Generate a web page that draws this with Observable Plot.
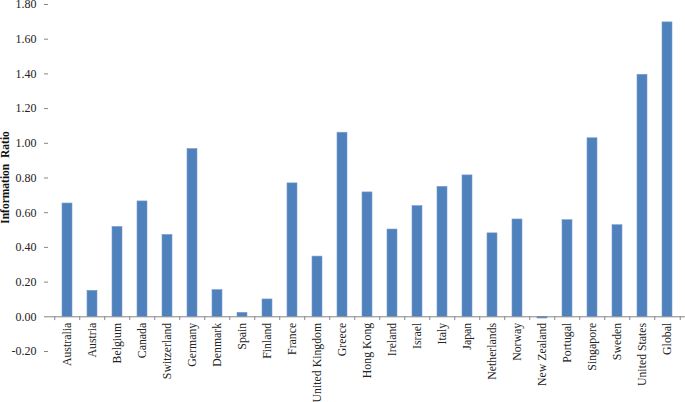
<!DOCTYPE html>
<html>
<head>
<meta charset="utf-8">
<script src="https://cdn.jsdelivr.net/npm/d3@7"></script>
<script src="https://cdn.jsdelivr.net/npm/@observablehq/plot@0.6"></script>
<style>
  html, body { margin: 0; padding: 0; background: #fff; }
  #chart svg { overflow: visible; }
  #chart svg, #chart svg text { font-family: "Liberation Serif", "Times New Roman", serif !important; }
</style>
</head>
<body>
<div id="chart"></div>
<script>
const countries = ["Australia","Austria","Belgium","Canada","Switzerland","Germany","Denmark","Spain","Finland","France","United Kingdom","Greece","Hong Kong","Ireland","Israel","Italy","Japan","Netherlands","Norway","New Zealand","Portugal","Singapore","Sweden","United States","Global"];
const infoRatio = [0.653,0.150,0.518,0.665,0.472,0.967,0.154,0.023,0.100,0.769,0.347,1.061,0.717,0.503,0.638,0.749,0.815,0.481,0.561,-0.010,0.557,1.029,0.528,1.395,1.697];
const yTicks = [-0.2,0,0.2,0.4,0.6,0.8,1.0,1.2,1.4,1.6,1.8];
const yTitle = "Information  Ratio";

const data = countries.map((c, i) => ({country: c, value: infoRatio[i]}));

const W = 685, H = 402;
const mL = 48, mR = 0, mT = 4, mB = 51;
const step = (W - mL - mR) / countries.length;
const axisColor = "#878787";

const chart = Plot.plot({
  width: W,
  height: H,
  marginLeft: mL,
  marginRight: mR,
  marginTop: mT,
  marginBottom: mB,
  style: {fontFamily: "Liberation Serif", fontSize: "12px", color: "#222", background: "#fff"},
  x: {domain: countries, paddingInner: 0.6, paddingOuter: 0.3, axis: null},
  y: {domain: [-0.2, 1.8], axis: null},
  marks: [
    Plot.barY(data, {x: "country", y: "value", fill: "#4f81bd", stroke: "#7aa0cf", strokeWidth: 0.6}),
    // y axis
    Plot.axisY({ticks: yTicks, tickFormat: d => d.toFixed(2), tickSize: 4, tickPadding: 8, stroke: axisColor, fill: "#222", label: null, fontSize: 12}),
    Plot.ruleX([0], {x: () => null, frameAnchor: "left", y1: -0.2, y2: 1.8, stroke: axisColor}),
    // x axis baseline at zero
    Plot.ruleY([0], {stroke: axisColor}),
    // tick marks at category boundaries
    Plot.ruleX(countries, {x: d => d, y1: 0, y2: -0.022, dx: -step / 2, stroke: axisColor}),
    Plot.ruleX([countries[countries.length - 1]], {x: d => d, y1: 0, y2: -0.022, dx: step / 2, stroke: axisColor}),
    // category labels, rotated
    Plot.text(countries, {x: d => d, y: 0, text: d => d, rotate: -90, textAnchor: "end", dy: 6, fill: "#222", fontSize: 11.8, lineAnchor: "middle"})
  ]
});

// y-axis title
const svg = d3.select(chart);
svg.append("text")
  .attr("transform", `translate(8.5, ${mT + (H - mT - mB) / 2}) rotate(-90)`)
  .attr("text-anchor", "middle")
  .attr("font-weight", "bold")
  .attr("font-size", 11.5)
  .attr("fill", "#111")
  .style("white-space", "pre")
  .text(yTitle);

document.getElementById("chart").appendChild(chart);
</script>
</body>
</html>
